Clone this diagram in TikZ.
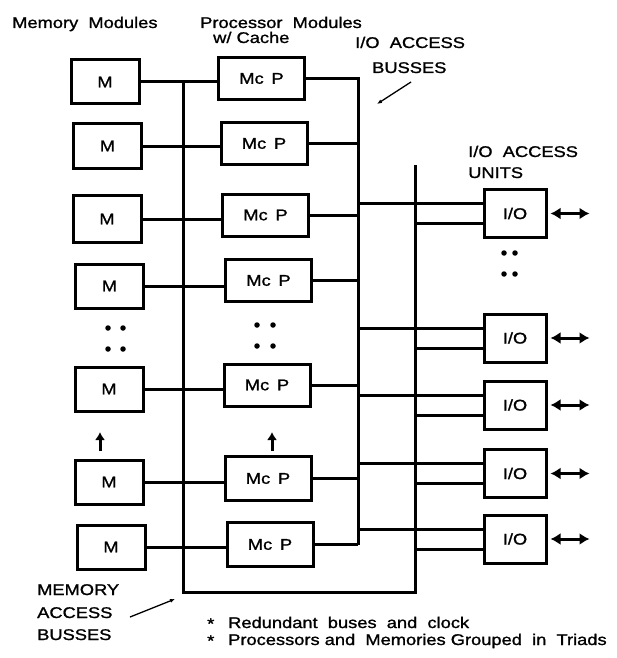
\documentclass[tikz,border=0pt]{standalone}
\usepackage{fontspec}
\newfontfamily\lblfont[FakeStretch=1.18,FakeBold=1.2]{Liberation Sans}
\usetikzlibrary{arrows.meta,calc}
\begin{document}
\begin{tikzpicture}[x=1pt,y=-1pt,
  box/.style={draw,line width=3pt,rectangle,inner sep=0pt,font=\lblfont\fontsize{15.5}{17}\selectfont},
  mbox/.style={box,minimum width=68pt,minimum height=44pt},
  pbox/.style={box,minimum width=86pt,minimum height=42pt},
  iobox/.style={box,minimum width=62pt,minimum height=48pt},
  txt/.style={anchor=base west,inner sep=0pt,font=\lblfont\fontsize{15.5}{17}\selectfont},
  bus/.style={line width=3pt},
  dbl/.style={line width=3pt,{Latex[length=10pt,width=12pt]}-{Latex[length=10pt,width=12pt]}},
  uparrow/.style={line width=3pt,-{Latex[length=8pt,width=10pt]}},
  ptr/.style={line width=1.3pt,-{Latex[length=5pt,width=4pt]}},
  dot/.style={circle,fill,inner sep=0pt,minimum size=5.5pt}
]
\useasboundingbox (0,0) rectangle (616,658);

% labels
\node[txt] (lmm) at (12,28) {Memory\ \ Modules};
\node[txt] (lpm) at (200,28) {Processor\ \ Modules};
\node[txt] (lpc) at (213,43) {w/ Cache};
\node[txt] (lib1) at (355,48) {I/O\ \ ACCESS};
\node[txt] (lib2) at (372,73) {BUSSES};
\node[txt] (liu1) at (468,157) {I/O\ \ ACCESS};
\node[txt] (liu2) at (468,178) {UNITS};
\node[txt] (lma1) at (37,595) {MEMORY};
\node[txt] (lma2) at (37,618) {ACCESS};
\node[txt] (lma3) at (37,640) {BUSSES};
\node[txt] (ast1) at (207,629) {*};
\node[txt] (ast2) at (207,646) {*};
\node[txt] (note1) at (228,628) {Redundant\ \ buses\ \ and\ \ clock};
\node[txt] (note2) at (228,645) {Processors and\ \ Memories Grouped\ \ in\ \ Triads};

% memory modules
\node[mbox] (M1) at (105,82) {M};
\node[mbox] (M2) at (107.5,146) {M};
\node[mbox,minimum height=47pt] (M3) at (107,219) {M};
\node[mbox] (M4) at (109.5,286) {M};
\node[mbox] (M5) at (109,389) {M};
\node[mbox] (M6) at (109,482) {M};
\node[mbox] (M7) at (111,547) {M};

% processor modules
\node[pbox] (P1) at (261.5,78.5) {Mc\enspace P};
\node[pbox] (P2) at (264,143.5) {Mc\enspace P};
\node[pbox] (P3) at (265.5,215) {Mc\enspace P};
\node[pbox] (P4) at (268.5,280.5) {Mc\enspace P};
\node[pbox] (P5) at (267,385) {Mc\enspace P};
\node[pbox,minimum height=44pt] (P6) at (268,478.5) {Mc\enspace P};
\node[pbox,minimum height=44pt] (P7) at (270,544.5) {Mc\enspace P};

% I/O units
\node[iobox] (IO1) at (515,213.5) {I/O};
\node[iobox] (IO2) at (515,338) {I/O};
\node[iobox] (IO3) at (515,405) {I/O};
\node[iobox] (IO4) at (515,473.5) {I/O};
\node[iobox] (IO5) at (515,539) {I/O};

% bus coordinates
\coordinate (mb) at (183,592);
\coordinate (b1b) at (358,544.5);
\coordinate (b2t) at (415,165);

% memory access bus
\draw[bus] (M1.east -| mb) -- (mb) -| (b2t);
\foreach \i in {1,...,7} {
  \draw[bus] (M\i.east) -- (M\i.east -| P\i.west);
}
% I/O access bus 1
\draw[bus] (P1.east) -| (b1b);
\foreach \i in {2,...,7} {
  \draw[bus] (P\i.east) -- (P\i.east -| b1b);
}
% connections to I/O units
\foreach \i in {1,...,5} {
  \path ([yshift=10pt]IO\i.west) coordinate (u\i);
  \path ([yshift=-10pt]IO\i.west) coordinate (w\i);
  \draw[bus] (u\i -| b1b) -- (u\i);
  \draw[bus] (w\i -| b2t) -- (w\i);
  \coordinate (as\i) at ($(IO\i.east)+(3,0)$);
  \coordinate (ae\i) at ($(IO\i.east)+(42,0)$);
  \draw[dbl] (as\i) -- (ae\i);
}

% ellipsis dots
\node[dot] (dl1) at (108,328) {};
\node[dot] (dl2) at (123,328) {};
\node[dot] (dl3) at (108,349) {};
\node[dot] (dl4) at (123,349) {};
\node[dot] (dm1) at (257,325) {};
\node[dot] (dm2) at (273,325) {};
\node[dot] (dm3) at (257,346) {};
\node[dot] (dm4) at (273,346) {};
\node[dot] (dr1) at (504,253) {};
\node[dot] (dr2) at (515,253) {};
\node[dot] (dr3) at (504,274) {};
\node[dot] (dr4) at (515,274) {};

% up arrows
\coordinate (ua1s) at (100,451);
\coordinate (ua1e) at (100,432);
\coordinate (ua2s) at (272,451);
\coordinate (ua2e) at (272,432);
\draw[uparrow] (ua1s) -- (ua1e);
\draw[uparrow] (ua2s) -- (ua2e);

% pointers
\coordinate (pb1) at (411,82);
\coordinate (pb2) at (377,104);
\draw[ptr] (pb1) -- (pb2);
\coordinate (pm1) at (130,617);
\coordinate (pm2) at (175,599);
\draw[ptr] (pm1) -- (pm2);
\end{tikzpicture}
\end{document}
